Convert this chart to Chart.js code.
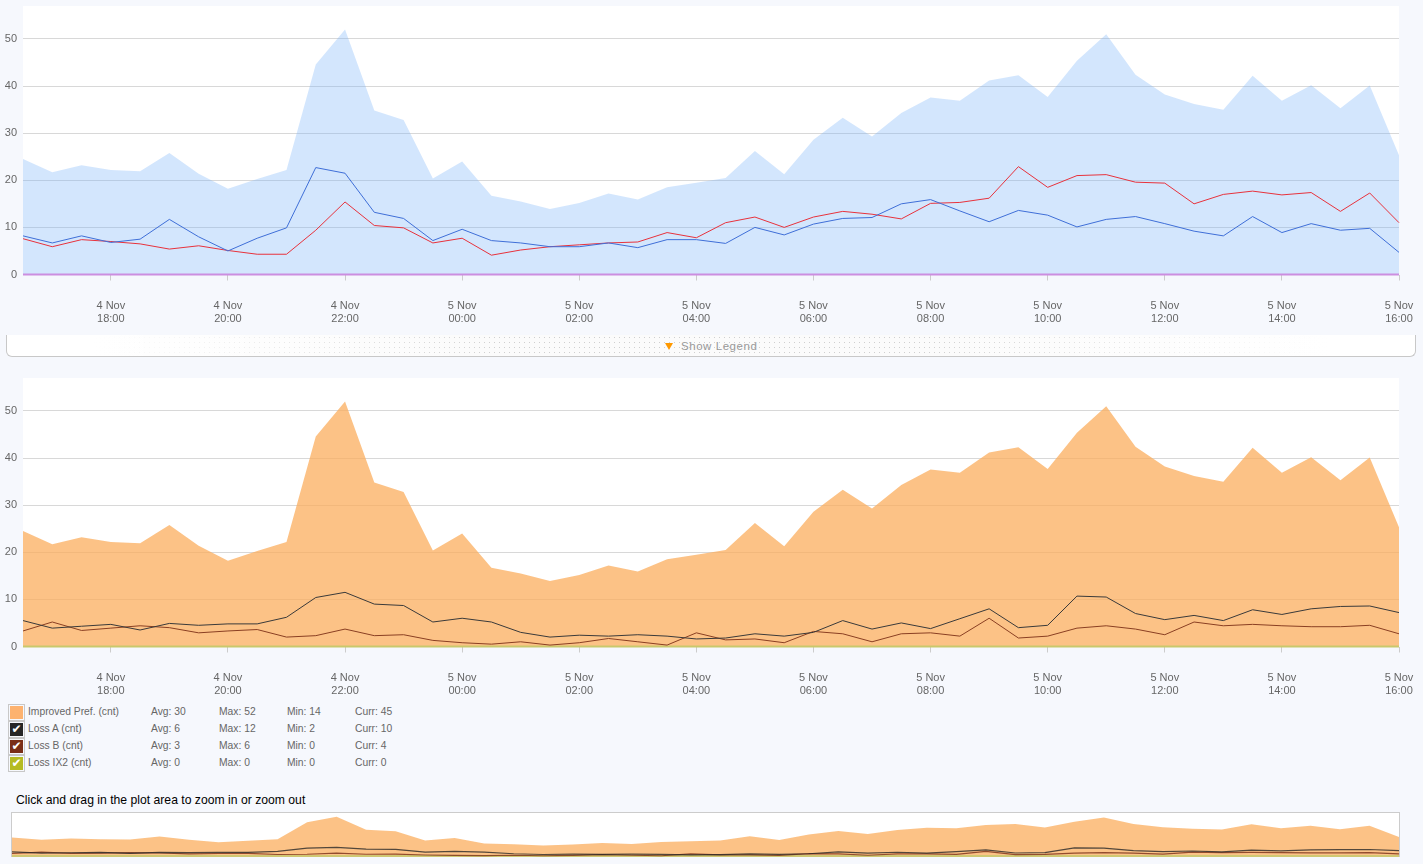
<!DOCTYPE html>
<html lang="en">
<head>
<meta charset="UTF-8" />
<title>Loss chart</title>
<script src="https://cdn.jsdelivr.net/npm/chart.js"></script>
<style>
  html, body { margin: 0; padding: 0; }
  body {
    width: 1423px; height: 864px; overflow: hidden; position: relative;
    background: #f6f8fd;
    font-family: "Liberation Sans", Arial, sans-serif;
  }
  .wrap { position: absolute; left: 0; width: 1423px; height: 330px; }
  canvas { display: block; }
  #legendBar {
    position: absolute; left: 6px; top: 335px; width: 1408px; height: 21px;
    border: 1px solid #c8c8c8; border-top: none; border-radius: 0 0 6px 6px;
    background:
      linear-gradient(to right, #fff 6%, rgba(255,255,255,0) 35%, rgba(255,255,255,0) 65%, #fff 94%),
      radial-gradient(circle, #cfcfcf 0.7px, rgba(255,255,255,0) 1px) 0 0 / 5px 5px,
      #fbfbfb;
  }
  #legendBar span {
    position: absolute; left: 674px; top: 5px; font-size: 11.5px; color: #999; letter-spacing: 0.55px;
  }
  #legendBar i {
    position: absolute; left: 658px; top: 8px; width: 0; height: 0;
    border-left: 4px solid transparent; border-right: 4px solid transparent; border-top: 7px solid #ff9900;
  }
  .row { position: absolute; left: 8px; height: 17px; font-size: 10.3px; line-height: 16px; color: #666; }
  .row b { position: absolute; font-weight: normal; top: 0; white-space: nowrap; }
  .sw {
    position: absolute; left: 0; top: 0; width: 15px; height: 15px; border: 1px solid #c8c8c8;
    box-shadow: inset 0 0 0 1px #f6f8fd; color: #fff; font: 12px/15px "DejaVu Sans", sans-serif; text-align: center;
  }
  #hint { position: absolute; left: 16px; top: 793px; font-size: 12.2px; color: #000; }
  #navWrap {
    position: absolute; left: 11px; top: 812px; width: 1387px; height: 44px;
    border: 1px solid #ccc; border-bottom: none; background: #fff;
  }
</style>
</head>
<body>
<div class="wrap" style="top:0"><canvas id="topChart" width="1423" height="330"></canvas></div>
<div id="legendBar"><i></i><span>Show Legend</span></div>
<div class="wrap" style="top:372px"><canvas id="bottomChart" width="1423" height="330"></canvas></div>
<div id="legend"></div>
<div id="hint">Click and drag in the plot area to zoom in or zoom out</div>
<div id="navWrap"><canvas id="navChart" width="1387" height="44"></canvas></div>

<script>
  const timeLabels = [
    '4 Nov|16:30','4 Nov|17:00','4 Nov|17:30','4 Nov|18:00','4 Nov|18:30','4 Nov|19:00','4 Nov|19:30','4 Nov|20:00',
    '4 Nov|20:30','4 Nov|21:00','4 Nov|21:30','4 Nov|22:00','4 Nov|22:30','4 Nov|23:00','4 Nov|23:30','5 Nov|00:00',
    '5 Nov|00:30','5 Nov|01:00','5 Nov|01:30','5 Nov|02:00','5 Nov|02:30','5 Nov|03:00','5 Nov|03:30','5 Nov|04:00',
    '5 Nov|04:30','5 Nov|05:00','5 Nov|05:30','5 Nov|06:00','5 Nov|06:30','5 Nov|07:00','5 Nov|07:30','5 Nov|08:00',
    '5 Nov|08:30','5 Nov|09:00','5 Nov|09:30','5 Nov|10:00','5 Nov|10:30','5 Nov|11:00','5 Nov|11:30','5 Nov|12:00',
    '5 Nov|12:30','5 Nov|13:00','5 Nov|13:30','5 Nov|14:00','5 Nov|14:30','5 Nov|15:00','5 Nov|15:30','5 Nov|16:00'
  ];
  const yTicks = [0, 10, 20, 30, 40, 50];

  const improved = [24.5,21.7,23.2,22.2,21.9,25.8,21.4,18.2,20.3,22.2,44.6,52,34.8,32.8,20.4,24,
    16.7,15.5,13.9,15.2,17.2,15.9,18.5,19.5,20.5,26.2,21.3,28.6,33.3,29.3,34.3,37.6,
    36.9,41.2,42.3,37.7,45.4,51,42.4,38.2,36.2,35,42.2,36.9,40.2,35.3,40.1,25.3];
  const blueLine = [8.2,6.7,8.2,6.8,7.5,11.7,8,5,7.7,9.9,22.7,21.5,13.2,11.9,7.2,9.6,
    7.2,6.7,5.9,5.9,6.7,5.7,7.4,7.4,6.6,10,8.4,10.7,11.9,12.1,15,15.9,
    13.5,11.2,13.6,12.6,10.1,11.7,12.3,10.8,9.2,8.2,12.3,8.9,10.8,9.4,9.8,4.7];
  const redLine = [7.6,5.9,7.4,7,6.5,5.4,6.1,5.1,4.3,4.3,9.4,15.4,10.4,9.9,6.7,7.7,
    4.1,5.2,5.9,6.3,6.7,6.9,8.9,7.8,11,12.2,10,12.2,13.4,12.8,11.8,15.1,
    15.3,16.2,22.9,18.5,21,21.2,19.6,19.4,15,17,17.7,16.9,17.4,13.4,17.3,11];
  const lossA = [5.5,3.9,4.3,4.7,3.5,4.9,4.5,4.8,4.8,6.2,10.4,11.5,9,8.7,5.2,6,
    5.2,3,2,2.4,2.2,2.5,2.2,1.6,1.8,2.7,2.2,3,5.5,3.7,5,3.8,
    5.9,8,4,4.5,10.7,10.5,7,5.7,6.6,5.5,7.8,6.8,8,8.5,8.6,7.2];
  const lossB = [3.3,5.2,3.4,3.9,4.4,4,2.9,3.3,3.6,2,2.3,3.7,2.3,2.5,1.3,0.8,
    0.5,1,0.3,0.8,1.7,1,0.3,2.9,1.4,1.6,0.8,3.2,2.7,1,2.7,2.9,
    2.2,6,1.8,2.2,3.9,4.4,3.7,2.5,5.2,4.4,4.7,4.4,4.2,4.2,4.5,2.7];
  const lossIx2 = [0,0,0,0,0,0,0,0,0,0,0,0,0,0,0,0,0,0,0,0,0,0,0,0,0,0,0,0,0,0,0,0,0,0,0,0,0,0,0,0,0,0,0,0,0,0,0,0];

  const legendNames = ['Improved Pref. (cnt)', 'Loss A (cnt)', 'Loss B (cnt)', 'Loss IX2 (cnt)'];
  const legendAvg = [30, 6, 3, 0];
  const legendMax = [52, 12, 6, 0];
  const legendMin = [14, 2, 0, 0];
  const legendCurr = [45, 10, 4, 0];
  const legendColors = ['#fdb26f', '#262626', '#792e17', '#b5bb22'];

  // legend rows
  const legendEl = document.getElementById('legend');
  legendNames.forEach((name, i) => {
    const row = document.createElement('div');
    row.className = 'row';
    row.style.top = (704 + i * 17) + 'px';
    row.innerHTML =
      `<div class="sw" style="background:${legendColors[i]}">${i ? '✔' : ''}</div>` +
      `<b style="left:20px">${name}</b>` +
      `<b style="left:143px">Avg: ${legendAvg[i]}</b>` +
      `<b style="left:211px">Max: ${legendMax[i]}</b>` +
      `<b style="left:279px">Min: ${legendMin[i]}</b>` +
      `<b style="left:347px">Curr: ${legendCurr[i]}</b>`;
    legendEl.appendChild(row);
  });

  const plotBackground = {
    id: 'plotBackground',
    beforeDraw(chart) {
      const a = chart.chartArea;
      chart.ctx.save();
      chart.ctx.fillStyle = '#fff';
      chart.ctx.fillRect(a.left, a.top, a.width, a.height);
      chart.ctx.restore();
    }
  };

  function area(data, color) {
    return { data, backgroundColor: color, borderWidth: 0, fill: 'origin', pointRadius: 0, tension: 0, order: 5 };
  }
  function line(data, color, width) {
    return { data, borderColor: color, borderWidth: width || 1, fill: false, pointRadius: 0, tension: 0, clip: false, order: 1 };
  }

  function mainOptions() {
    return {
      responsive: false,
      animation: false,
      events: [],
      layout: { autoPadding: false, padding: { top: 6, right: 24, left: 0, bottom: 0 } },
      plugins: { legend: { display: false }, tooltip: { enabled: false } },
      scales: {
        x: {
          afterFit(scale) { scale.height = 55.5; scale.paddingLeft = 0; scale.paddingRight = 0; },
          afterBuildTicks(scale) {
            scale.ticks = scale.ticks.filter(t => {
              const time = timeLabels[t.value].split('|')[1];
              return time.endsWith(':00') && parseInt(time, 10) % 2 === 0;
            });
          },
          grid: { drawOnChartArea: false, tickLength: 6, tickColor: '#ccc' },
          border: { display: false },
          ticks: {
            autoSkip: false, maxRotation: 0, minRotation: 0, padding: 18.5,
            color: '#666', font: { family: '"Liberation Sans", Arial', size: 11, lineHeight: 1.18 },
            callback(v) { return timeLabels[v].split('|'); }
          }
        },
        y: {
          min: 0, max: 57,
          afterFit(scale) { scale.width = 23; scale.paddingTop = 0; scale.paddingBottom = 0; },
          afterBuildTicks(scale) { scale.ticks = yTicks.map(v => ({ value: v })); },
          grid: { color: '#d8d8d8', drawTicks: false },
          border: { display: false },
          ticks: { padding: 6, color: '#666', font: { family: '"Liberation Sans", Arial', size: 11 } }
        }
      }
    };
  }

  new Chart(document.getElementById('topChart'), {
    type: 'line',
    data: {
      labels: timeLabels,
      datasets: [
        area(improved, 'rgba(122,178,250,0.33)'),
        line(blueLine, '#3f6fd8'),
        line(redLine, '#e8323c'),
        line(lossIx2, '#cc8ee0', 2)
      ]
    },
    options: mainOptions(),
    plugins: [plotBackground]
  });

  new Chart(document.getElementById('bottomChart'), {
    type: 'line',
    data: {
      labels: timeLabels,
      datasets: [
        area(improved, 'rgba(251,174,94,0.75)'),
        line(lossA, '#3a3a3a'),
        line(lossB, '#8a3f22'),
        line(lossIx2, '#c9c86c', 2)
      ]
    },
    options: mainOptions(),
    plugins: [plotBackground]
  });

  new Chart(document.getElementById('navChart'), {
    type: 'line',
    data: {
      labels: timeLabels,
      datasets: [
        area(improved, 'rgba(251,174,94,0.75)'),
        line(lossA, 'rgba(40,40,40,0.8)', 1.2),
        line(lossB, 'rgba(120,46,23,0.8)', 1.2),
        line(lossIx2, '#cfc873', 2)
      ]
    },
    options: {
      responsive: false,
      animation: false,
      events: [],
      layout: { autoPadding: false, padding: { bottom: 1 } },
      plugins: { legend: { display: false }, tooltip: { enabled: false } },
      scales: {
        x: { display: false },
        y: { display: false, min: 0, max: 57 }
      }
    }
  });
</script>
</body>
</html>
